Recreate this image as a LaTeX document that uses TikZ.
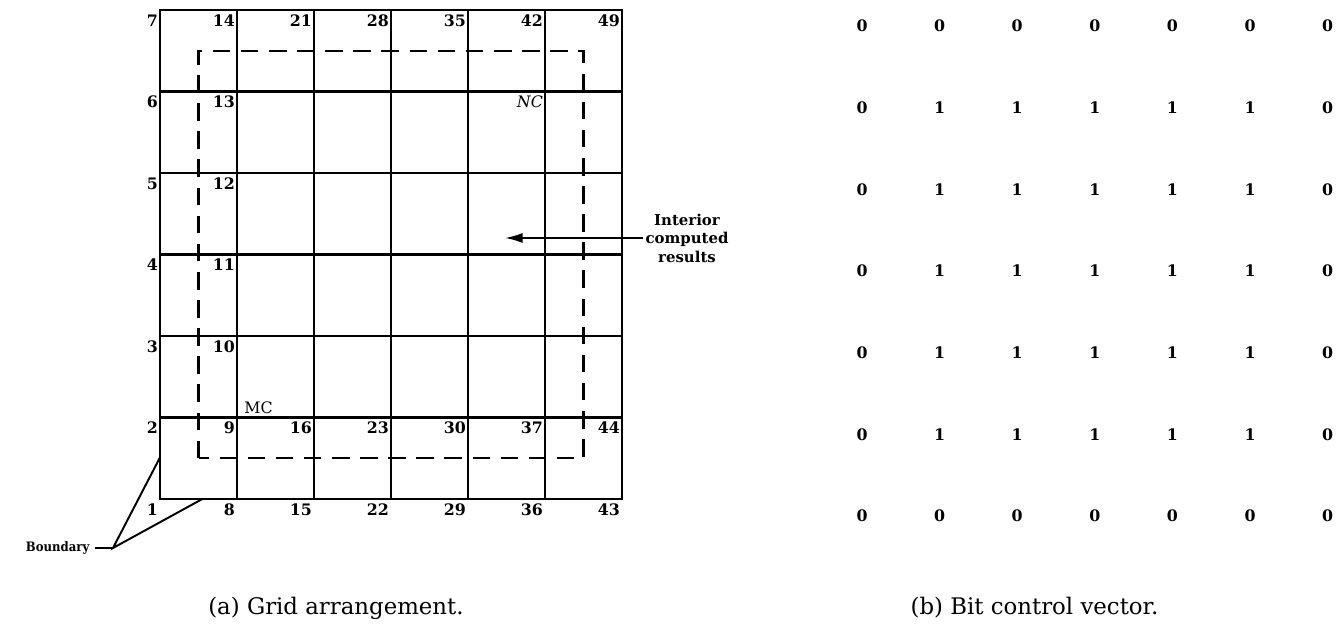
\documentclass[tikz,border=0pt]{standalone}
\usepackage{fontspec}
\setmainfont{DejaVu Serif}
\newfontfamily\narrowserif{DejaVu Serif Condensed}
\usetikzlibrary{arrows.meta,positioning,calc}
\tikzset{
  gridline/.style={line width=1.4pt},
  interiorbox/.style={line width=1.3pt, dash pattern=on 10pt off 6pt},
  ptlabel/.style={anchor=north east, inner xsep=1pt, inner ysep=2.5pt,
                  font=\fontsize{9}{10}\selectfont\bfseries},
  bitval/.style={font=\fontsize{9}{10}\selectfont\bfseries},
  note/.style={font=\fontsize{8.5}{10.5}\selectfont\bfseries, align=center, inner sep=1pt},
  caption/.style={font=\fontsize{13}{15}\selectfont},
  pointer/.style={-{Latex[length=3.5mm,width=2mm]}, line width=1.1pt},
  leader/.style={line width=1.1pt}
}
\begin{document}
\begin{tikzpicture}
  \useasboundingbox (0,0) rectangle (26.74,12.48);
  % grid points, numbered column by column from the bottom left
  \foreach \i in {0,...,6}
    \foreach \j in {0,...,6} {
      \pgfmathtruncatemacro\n{7*\i+\j+1}
      \coordinate (p\n) at ({3.2+1.54*\i},{2.5+1.63*\j});
    }
  % grid lines
  \draw[gridline] (p1) rectangle (p49);
  \foreach \i in {1,...,5} {
    \pgfmathtruncatemacro\a{7*\i+1}
    \pgfmathtruncatemacro\b{7*\i+7}
    \draw[gridline] (p\a) -- (p\b);
  }
  \foreach \j in {2,...,6} {
    \pgfmathtruncatemacro\b{42+\j}
    \draw[gridline] (p\j) -- (p\b);
  }
  % point numbers on the boundary
  \foreach \i in {0,...,6}
    \foreach \j in {0,...,6} {
      \pgfmathtruncatemacro\n{7*\i+\j+1}
      \pgfmathtruncatemacro\shown{(\i<2)||(\j<2)||(\j==6)}
      \ifnum\shown=1
        \node[ptlabel] (l\n) at (p\n) {\n};
      \fi
    }
  \node[ptlabel, font=\fontsize{9}{10}\selectfont\itshape] (nc) at (p41) {NC};
  \node[anchor=south west, inner xsep=4pt, inner ysep=2pt, font=\fontsize{9}{10}\selectfont] (mc) at (p9) {MC};
  % interior region
  \draw[interiorbox] ($(p1)!0.5!(p9)$) rectangle ($(p41)!0.5!(p49)$);
  \node[note] (interior) at (13.74,7.72) {Interior\\computed\\results};
  \coordinate (tip) at (10.1,7.72);
  \draw[pointer] (interior.west) -- (tip);
  % boundary
  \node[note, anchor=east, inner xsep=3pt, font=\fontsize{7.4}{8.5}\selectfont\narrowserif\bfseries] (boundary) at (1.9,1.52) {Boundary};
  \coordinate (bjoin) at (2.26,1.52);
  \coordinate (bleft) at ($(p1)!0.51!(p2)$);
  \coordinate (bbot) at ($(p1)!0.55!(p8)$);
  \draw[leader] (boundary.east) -- (bjoin);
  \draw[leader] (bleft) -- (bjoin) -- (bbot);
  % bit control vector
  \foreach \r in {1,...,7}
    \foreach \c in {1,...,7} {
      \pgfmathtruncatemacro\bit{(\c>1)&&(\c<7)&&(\r>1)&&(\r<7)}
      \node[bitval] (b\r\c) at ({17.24+1.552*(\c-1)},{11.96-1.634*(\r-1)}) {\bit};
    }
  % captions
  \node[caption] (capa) at (6.72,0.32) {(a) Grid arrangement.};
  \node[caption] (capb) at (20.69,0.32) {(b) Bit control vector.};
\end{tikzpicture}
\end{document}
